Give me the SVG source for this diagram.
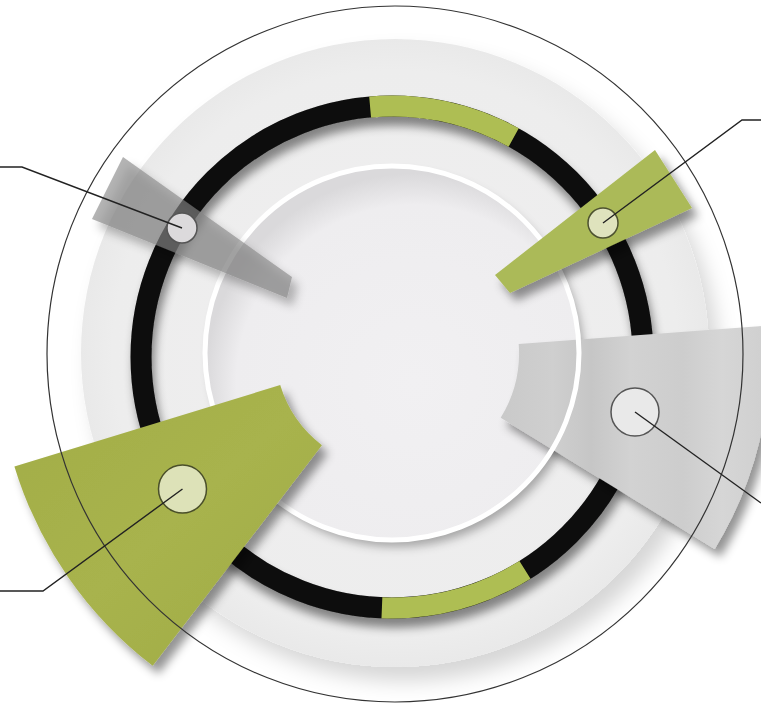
<svg xmlns="http://www.w3.org/2000/svg" width="761" height="705" viewBox="0 0 761 705">
<style>
.lead{fill:none;stroke:#222;stroke-width:1.4}
.ring{fill:none;stroke-width:21}
.green{fill:#abba58}
.mk{stroke-width:1.5}
</style>
<defs>
<filter id="shBig" x="-20%" y="-20%" width="150%" height="150%"><feDropShadow dx="10" dy="14" stdDeviation="10" flood-color="#000" flood-opacity="0.16"/></filter>
<filter id="sh" x="-30%" y="-30%" width="170%" height="170%"><feDropShadow dx="6" dy="8" stdDeviation="5" flood-color="#000" flood-opacity="0.42"/></filter>
<filter id="shIn" x="-20%" y="-20%" width="150%" height="150%"><feDropShadow dx="5" dy="7" stdDeviation="5" flood-color="#000" flood-opacity="0.3"/></filter>
<filter id="shRing" x="-20%" y="-20%" width="150%" height="150%"><feDropShadow dx="3" dy="9" stdDeviation="5" flood-color="#000" flood-opacity="0.45"/></filter>
<radialGradient id="discG" cx="0.5" cy="0.5" r="0.5">
<stop offset="0" stop-color="#f0eff0"/>
<stop offset="0.9" stop-color="#ededed"/>
<stop offset="1" stop-color="#e9e9e9"/>
</radialGradient>
<radialGradient id="innerG" cx="0.56" cy="0.58" r="0.56">
<stop offset="0" stop-color="#f1f0f2"/>
<stop offset="0.85" stop-color="#eeedef"/>
<stop offset="1" stop-color="#dad9db"/>
</radialGradient>
<linearGradient id="fanG" x1="500" y1="0" x2="761" y2="0" gradientUnits="userSpaceOnUse">
<stop offset="0" stop-color="#c9c9c9"/>
<stop offset="0.2" stop-color="#cfcfcf"/>
<stop offset="0.35" stop-color="#c6c6c6"/>
<stop offset="0.5" stop-color="#d2d2d2"/>
<stop offset="0.7" stop-color="#cdcdcd"/>
<stop offset="0.85" stop-color="#d6d6d6"/>
<stop offset="1" stop-color="#d0d0d0"/>
</linearGradient>
<linearGradient id="bigG" x1="0" y1="0" x2="1" y2="1">
<stop offset="0" stop-color="#a2ad47"/>
<stop offset="0.5" stop-color="#a8b34d"/>
<stop offset="1" stop-color="#9fab45"/>
</linearGradient>
</defs>
<rect width="761" height="705" fill="#ffffff"/>
<g id="background">
<circle cx="395" cy="353" r="314" fill="url(#discG)" filter="url(#shBig)"/>
</g>
<g id="ring">
<g filter="url(#shRing)">
<circle cx="392" cy="357" r="251" class="ring" stroke="#0a0a0a"/>
<path d="M 370.1 107 A 251 251 0 0 1 513.7 137.5" class="ring" stroke="#aebe52"/>
<path d="M 525 569.9 A 251 251 0 0 1 381.9 607.8" class="ring" stroke="#aebe52"/>
</g>
</g>
<g id="inner-disc">
<circle cx="392" cy="353" r="187" fill="url(#innerG)" filter="url(#shIn)"/>
</g>
<g id="node-right">
<path d="M 518.7 343.9 L 769 325.5 A 375 375 0 0 1 714.7 548.9 L 500.7 417.8 A 124 124 0 0 0 518.7 343.9 Z" fill="url(#fanG)" filter="url(#sh)"/>
</g>
<circle cx="392" cy="353" r="187" fill="none" stroke="#ffffff" stroke-width="5"/>
<g id="node-upper-left">
<polygon points="123,157 292,277 287,298 92,219" fill="#858585" fill-opacity="0.62" filter="url(#sh)"/>
<circle cx="182" cy="228" r="15" fill="#dcdadc" stroke="#555" class="mk"/>
</g>
<g id="node-upper-right">
<polygon points="655,150 692,208 510,293 495,275" class="green" filter="url(#sh)"/>
<circle cx="603" cy="223" r="15" fill="#dfe3bd" stroke="#4d5230" class="mk"/>
</g>
<g id="node-lower-left">
<path d="M 152.7 665.8 A 398 398 0 0 1 14.4 466.4 L 280.2 385.1 A 120 120 0 0 0 321.9 445.2 Z" fill="url(#bigG)" filter="url(#sh)"/>
<circle cx="182.5" cy="489" r="24" fill="#dde2b8" stroke="#4a4f2a" class="mk"/>
</g>
<g id="node-right-marker">
<circle cx="635" cy="412" r="24" fill="#e9e9e9" stroke="#555" class="mk"/>
</g>
<circle cx="395" cy="354" r="348" fill="none" stroke="#333" stroke-width="1.2"/>
<g id="connectors">
<polyline class="lead" points="0,167 22,167 182,228"/>
<polyline class="lead" points="761,120 742,120 603,223"/>
<polyline class="lead" points="0,591 43,591 182.5,489"/>
<polyline class="lead" points="635,412 761,503"/>
</g>
</svg>
